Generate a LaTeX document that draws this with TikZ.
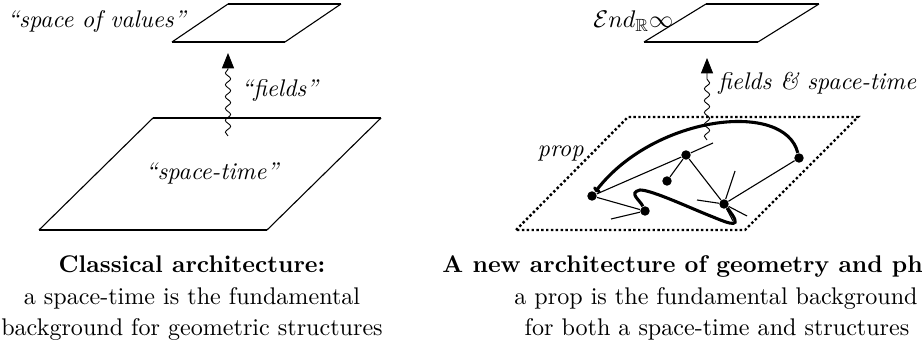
\documentclass[tikz,border=0pt]{standalone}
\usepackage{amsmath,amssymb}
\usepackage{tikz}
\usetikzlibrary{arrows.meta}
\usetikzlibrary{decorations.pathmorphing}

\begin{document}
\begin{tikzpicture}[x=0.4545pt, y=-0.4545pt,
    every node/.style={font=\fontsize{10.95}{13.6}\selectfont, inner sep=0pt},
    side/.style={line width=0.5pt},
    rim/.style={line width=1pt},
    edge/.style={line width=0.5pt},
    strand/.style={line width=1.4pt},
    dot/.style={circle, fill, inner sep=0pt, minimum size=4.3pt},
    wave/.style={line width=0.4pt, decorate,
      decoration={snake, amplitude=1.2pt, segment length=5.4pt, post length=7pt},
      -{Triangle[length=7pt, width=5.5pt]}}
    ]

    \useasboundingbox (0,0) rectangle (922,348);

    % classical picture
    \coordinate (vbl) at (172,42);  \coordinate (vbr) at (285,42);
    \coordinate (vtl) at (228,4);   \coordinate (vtr) at (341,4);
    \draw[side] (vbl) -- (vtl) (vbr) -- (vtr);
    \draw[rim] (vbl) -- (vbr) (vtl) -- (vtr);
    \node[anchor=base east] (vals) at (186,28) {\itshape “space of values”};

    \coordinate (sbl) at (39,230);  \coordinate (sbr) at (267,230);
    \coordinate (stl) at (153,118); \coordinate (str) at (381,118);
    \draw[side] (sbl) -- (stl) (sbr) -- (str);
    \draw[rim] (sbl) -- (sbr) (stl) -- (str);
    \node[anchor=base] (spt) at (212,180) {\itshape “space-time”};

    \coordinate (w1) at (228,136);
    \coordinate (t1) at (228,53);
    \draw[wave] (w1) -- (t1);
    \node[anchor=base west] (fld) at (241,97) {\itshape “fields”};

    % prop picture
    \coordinate (ebl) at (644,42);  \coordinate (ebr) at (758,42);
    \coordinate (etl) at (706,4);   \coordinate (etr) at (819,4);
    \draw[side] (ebl) -- (etl) (ebr) -- (etr);
    \draw[rim] (ebl) -- (ebr) (etl) -- (etr);
    \node[anchor=base west] (end) at (593,28) {$\mathcal{E}nd_{\mathbb{R}}\infty$};

    \coordinate (pbl) at (516,230); \coordinate (pbr) at (745,230);
    \coordinate (ptl) at (628,117); \coordinate (ptr) at (858,117);
    \draw[line width=1.1pt, dash pattern=on 1.1pt off 1.1pt]
      (pbl) -- (ptl) -- (ptr) -- (pbr) -- cycle;
    \node[anchor=base east] (prp) at (584,157) {\itshape prop};

    \coordinate (w2) at (707,140);
    \coordinate (t2) at (707,58);
    \draw[wave] (w2) -- (t2);
    \node[anchor=base west] (fst) at (718,90) {\itshape fields \& space-time};

    \node[dot] (a) at (592,196) {};
    \node[dot] (b) at (686,155) {};
    \node[dot] (c) at (667,181) {};
    \node[dot] (d) at (799,158) {};
    \node[dot] (e) at (724,204) {};
    \node[dot] (f) at (645,211) {};

    \coordinate (bx) at (713,143);
    \coordinate (fx) at (611,219);
    \coordinate (eu) at (735,171);
    \coordinate (el) at (697,200);
    \coordinate (er) at (747,216);
    \coordinate (ed) at (733,221);

    \draw[edge] (a) -- (b) (b) -- (c) (b) -- (e) (e) -- (d) (a) -- (f);
    \draw[edge] (b) -- (bx) (f) -- (fx);
    \draw[edge] (e) -- (eu) (e) -- (el) (e) -- (er) (e) -- (ed);

    \draw[strand, -{To[length=2pt, width=4pt]}] (d) .. controls (785,100) and (655,115) .. (a);
    \draw[strand] (f) .. controls (640,200) and (628,193) .. (640,190)
      .. controls (652,190) and (690,208) .. (713,217)
      .. controls (730,224) and (745,230) .. (e);

    % captions
    \node[anchor=base] (cl1) at (192,273) {\bfseries Classical architecture:};
    \node[anchor=base] (cl2) at (192,305) {a space-time is the fundamental};
    \node[anchor=base] (cl3) at (192,336) {background for geometric structures};

    \node[anchor=base west] (cr1) at (442,273) {\bfseries A new architecture of geometry and physics:};
    \node[anchor=base] (cr2) at (716,305) {a prop is the fundamental background};
    \node[anchor=base] (cr3) at (717,336) {for both a space-time and structures};

\end{tikzpicture}
\end{document}
